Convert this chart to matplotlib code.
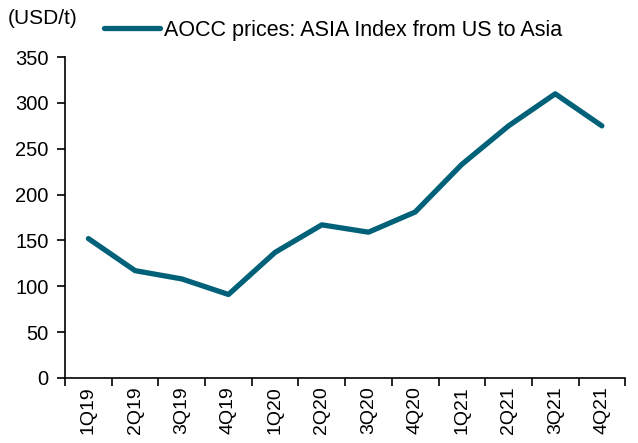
import numpy as np
import matplotlib
matplotlib.use("Agg")
import matplotlib.pyplot as plt

plt.rcParams['font.family'] = ['Liberation Sans', 'DejaVu Sans']

quarters = ["1Q19", "2Q19", "3Q19", "4Q19", "1Q20", "2Q20",
            "3Q20", "4Q20", "1Q21", "2Q21", "3Q21", "4Q21"]
prices = [152, 117, 108, 91, 137, 167, 159, 181, 233, 275, 310, 275]
yticks = [0, 50, 100, 150, 200, 250, 300, 350]

fig = plt.figure(figsize=(6.38, 4.43), dpi=100)
ax = fig.add_axes([0.102, 0.147, 0.878, 0.724])

x = np.arange(len(quarters))
ax.plot(x, prices, color="#006179", linewidth=3.8, solid_capstyle="round",
        label="AOCC prices: ASIA Index from US to Asia")

ax.set_xlim(-0.5, len(quarters) - 0.5)
ax.set_ylim(0, 350)
ax.set_yticks(yticks)
ax.tick_params(axis="y", labelsize=14.5, direction="out", length=6, width=1.2, pad=6)

# ticks on the category boundaries, labels in the middle
ax.set_xticks(np.arange(len(quarters) + 1) - 0.5)
ax.set_xticklabels([])
ax.set_xticks(x, minor=True)
ax.set_xticklabels(quarters, minor=True, rotation=90, fontsize=14)
ax.tick_params(axis="x", which="major", direction="out", length=6, width=1.2)
ax.tick_params(axis="x", which="minor", length=0, pad=6)

for s in ["top", "right"]:
    ax.spines[s].set_visible(False)
for s in ["left", "bottom"]:
    ax.spines[s].set_linewidth(1.2)

fig.text(0.012, 0.958, "(USD/t)", fontsize=15, va="center")
leg = ax.legend(loc="center left", bbox_to_anchor=(104 / 638, 0.932),
                bbox_transform=fig.transFigure, frameon=False, borderpad=0,
                borderaxespad=0, fontsize=15.5, handlelength=2.6,
                handletextpad=0.2)

fig.savefig("out.png", dpi=100)
